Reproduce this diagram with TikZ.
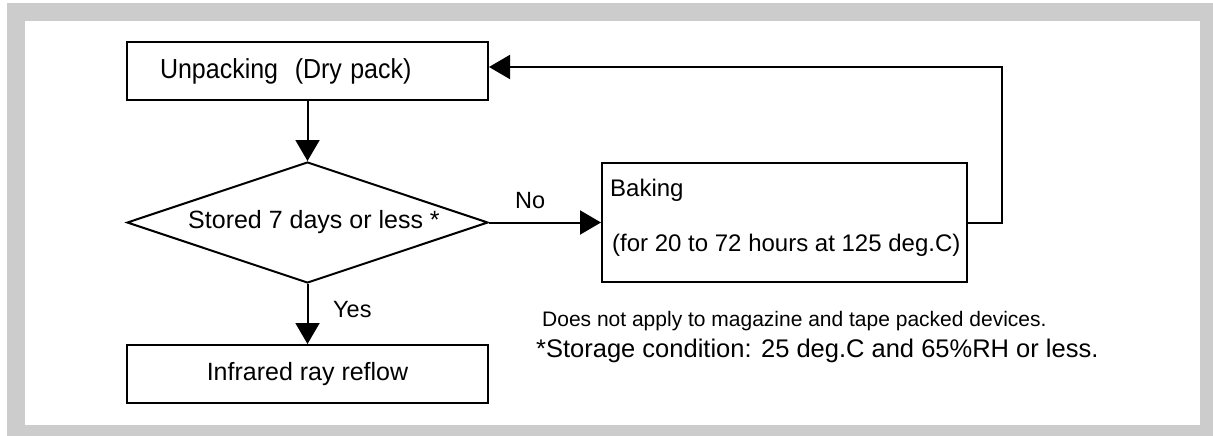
\documentclass[tikz,border=0pt]{standalone}
\usepackage{fontspec}
\usepackage{graphicx}
\setmainfont{Liberation Sans}
\usetikzlibrary{arrows.meta,shapes.geometric}
\definecolor{framegray}{HTML}{CCCCCC}
\tikzset{
  box/.style={draw=black, line width=2pt, rectangle, inner sep=0pt},
  decbox/.style={draw=black, line width=2pt, diamond, inner sep=0pt, minimum width=361pt, minimum height=121pt, shape aspect=3},
  flow/.style={line width=2pt, -{Triangle[length=21pt,width=24pt]}},
  lbl/.style={inner sep=0pt, anchor=base west},
  big/.style={font=\fontsize{25}{30}\selectfont},
}
\begin{document}
\begin{tikzpicture}[x=1pt,y=-1pt]
\useasboundingbox (0,0) rectangle (1213,436);
\fill[framegray] (7,3) rectangle (1213,436);
\fill[white] (25,21) rectangle (1200,425);

\node[box, big, text width=295pt, inner xsep=33pt, align=left, minimum height=58pt] (unpack) at (307.5,71) {\scalebox{1}[1.1]{Unpacking\ \ (Dry pack)}};
\node[decbox, big] (dec) at (307.5,222.5) {\hspace*{13pt}Stored 7 days or less *};
\node[box, big, minimum width=361pt, minimum height=58pt] (infra) at (307.5,374) {Infrared ray reflow};
\node[box, minimum width=365pt, minimum height=119pt] (bake) at (784.5,222.5) {};
\node[lbl, font=\fontsize{24}{28}\selectfont] (bake1) at (610,196.5) {Baking};
\node[lbl, font=\fontsize{24}{28}\selectfont] (bake2) at (612,251.6) {(for 20 to 72 hours at 125 deg.C)};

\draw[flow] (unpack.south) -- (dec.north);
\draw[flow] (dec.south) -- (infra.north);
\draw[flow] (dec.east) -- (bake.west);
\coordinate (fb) at (1002,67);
\draw[flow] (bake.east) -| (fb) -- (unpack.east |- fb);

\node[lbl, font=\fontsize{23.5}{28}\selectfont] (yes) at (333,317.4) {Yes};
\node[lbl, font=\fontsize{23.5}{28}\selectfont] (no) at (515,208.4) {No};
\node[lbl, font=\fontsize{21}{25}\selectfont] (note1) at (542,326.7) {Does not apply to magazine and tape packed devices.};
\node[lbl, font=\fontsize{25.5}{30}\selectfont] (note2) at (536,357) {*Storage condition: 25 deg.C and 65\%RH or less.};
\end{tikzpicture}
\end{document}
